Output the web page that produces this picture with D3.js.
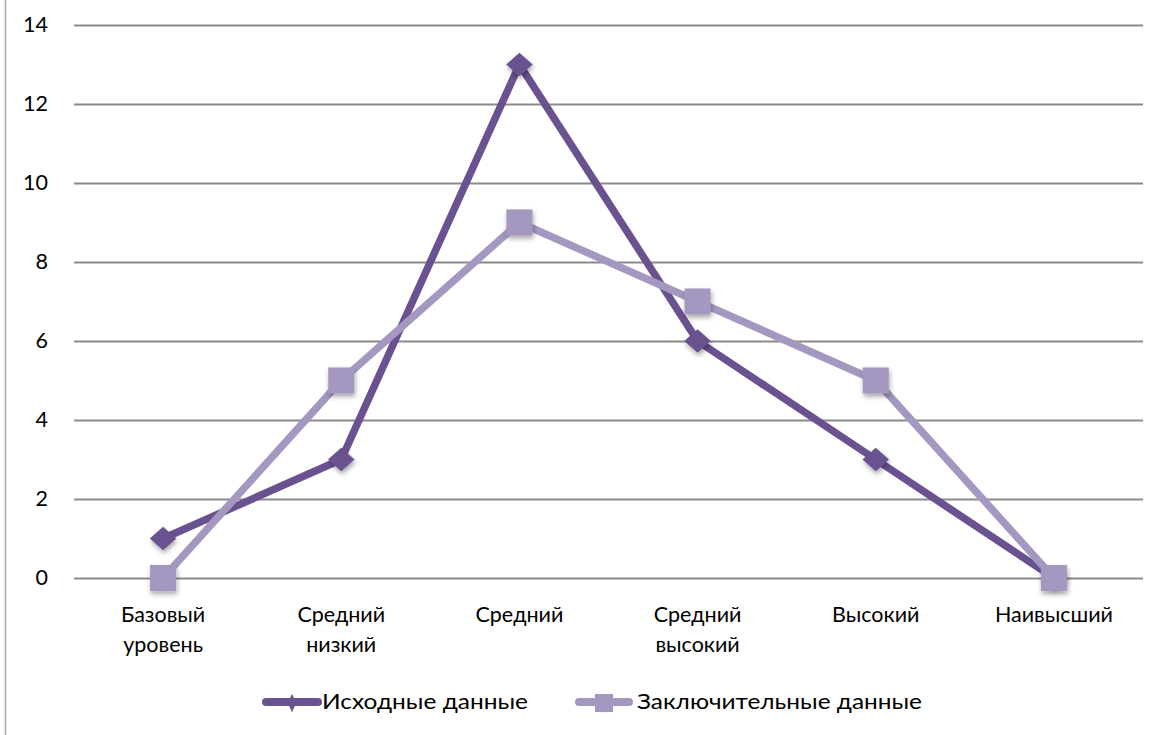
<!DOCTYPE html>
<html>
<head>
<meta charset="utf-8">
<script src="https://cdn.jsdelivr.net/npm/d3@7"></script>
<style>
  html, body { margin: 0; padding: 0; background: #fff; }
  svg { display: block; font-family: Lato, "Open Sans", sans-serif; }
</style>
</head>
<body>
<svg id="chart" width="1163" height="735"></svg>
<script>
// Levels along the x axis (multi-line labels)
const categories = [
  ["Базовый", "уровень"],
  ["Средний", "низкий"],
  ["Средний"],
  ["Средний", "высокий"],
  ["Высокий"],
  ["Наивысший"]
];
const seriesNames = ["Исходные данные", "Заключительные данные"];
const initialValues = [1, 3, 13, 6, 3, 0];
const finalValues = [0, 5, 9, 7, 5, 0];
const yTicks = [0, 2, 4, 6, 8, 10, 12, 14];

const colors = ["#6a5190", "#a598c0"];

const svg = d3.select("#chart");
const W = 1163, H = 735;
const plot = { left: 74, right: 1143, top: 25, bottom: 578 };

// Outer frame edge
svg.append("line")
  .attr("x1", 5.5).attr("x2", 5.5).attr("y1", 0).attr("y2", H)
  .attr("stroke", "#a6a6a6").attr("stroke-width", 1.5);

const x = d3.scaleBand()
  .domain(d3.range(categories.length))
  .range([plot.left, plot.right])
  .paddingInner(0).paddingOuter(0);
const cx = i => x(i) + x.bandwidth() / 2;

const y = d3.scaleLinear().domain([0, 14]).range([plot.bottom, plot.top]);

// Horizontal gridlines
svg.append("g").selectAll("line").data(yTicks).join("line")
  .attr("x1", plot.left).attr("x2", plot.right)
  .attr("y1", d => Math.round(y(d)) + 0.5).attr("y2", d => Math.round(y(d)) + 0.5)
  .attr("stroke", "#8a8a8a").attr("stroke-width", 1.8);

// Y axis labels
const yAxis = d3.axisLeft(y).tickValues(yTicks).tickSize(0).tickPadding(0);
const gy = svg.append("g").attr("transform", `translate(48,0)`).call(yAxis);
gy.select(".domain").remove();
gy.selectAll("text")
  .attr("font-size", 21.5).attr("fill", "#000")
  .attr("font-family", "Lato, 'Open Sans', sans-serif");

// Category labels
const gx = svg.append("g");
categories.forEach((lines, i) => {
  const t = gx.append("text")
    .attr("x", cx(i)).attr("y", 622)
    .attr("text-anchor", "middle")
    .attr("font-size", 21.5).attr("fill", "#000");
  lines.forEach((ln, k) => {
    t.append("tspan").attr("x", cx(i)).attr("dy", k === 0 ? 0 : 30).text(ln);
  });
});

// Soft shadow for markers
const defs = svg.append("defs");
const f = defs.append("filter").attr("id", "shadow")
  .attr("x", "-50%").attr("y", "-50%").attr("width", "200%").attr("height", "200%");
f.append("feDropShadow").attr("dx", 1).attr("dy", 3).attr("stdDeviation", 2.5)
  .attr("flood-color", "#000").attr("flood-opacity", 0.35);

const line = d3.line().x((d, i) => cx(i)).y(d => y(d));

// Diamond symbol with adjustable width/height ratio
const makeDiamond = (wScale) => ({
  draw(ctx, size) {
    const r = Math.sqrt(size) / 2;
    const rx = r * wScale;
    ctx.moveTo(0, -r); ctx.lineTo(rx, 0); ctx.lineTo(0, r); ctx.lineTo(-rx, 0); ctx.closePath();
  }
});

function drawSeries(values, color, shape, size) {
  const g = svg.append("g");
  g.append("path").datum(values)
    .attr("d", line)
    .attr("fill", "none").attr("stroke", color)
    .attr("stroke-width", 7.5).attr("stroke-linejoin", "round").attr("stroke-linecap", "round");
  const sym = d3.symbol().type(shape).size(size);
  g.selectAll("path.m").data(values).join("path")
    .attr("class", "m")
    .attr("d", sym)
    .attr("transform", (d, i) => `translate(${cx(i)},${y(d)})`)
    .attr("fill", color)
    .attr("filter", "url(#shadow)");
}

drawSeries(initialValues, colors[0], makeDiamond(1.12), 560);
drawSeries(finalValues, colors[1], d3.symbolSquare, 680);

// Legend
const legend = svg.append("g");
const legendItems = [
  { name: seriesNames[0], color: colors[0], shape: makeDiamond(0.45), size: 340, x0: 266, x1: 318, tx: 322, tw: 206 },
  { name: seriesNames[1], color: colors[1], shape: d3.symbolSquare, size: 330, x0: 579, x1: 629, tx: 637, tw: 285 }
];
legendItems.forEach(it => {
  const ly = 702;
  legend.append("line")
    .attr("x1", it.x0).attr("x2", it.x1).attr("y1", ly).attr("y2", ly)
    .attr("stroke", it.color).attr("stroke-width", 8).attr("stroke-linecap", "round");
  legend.append("path")
    .attr("d", d3.symbol().type(it.shape).size(it.size))
    .attr("transform", `translate(${(it.x0 + it.x1) / 2},${ly + 1})`)
    .attr("fill", it.color);
  legend.append("text")
    .attr("x", it.tx).attr("y", ly + 7)
    .attr("font-size", 22).attr("fill", "#000")
    .attr("textLength", it.tw).attr("lengthAdjust", "spacingAndGlyphs")
    .text(it.name);
});
</script>
</body>
</html>
